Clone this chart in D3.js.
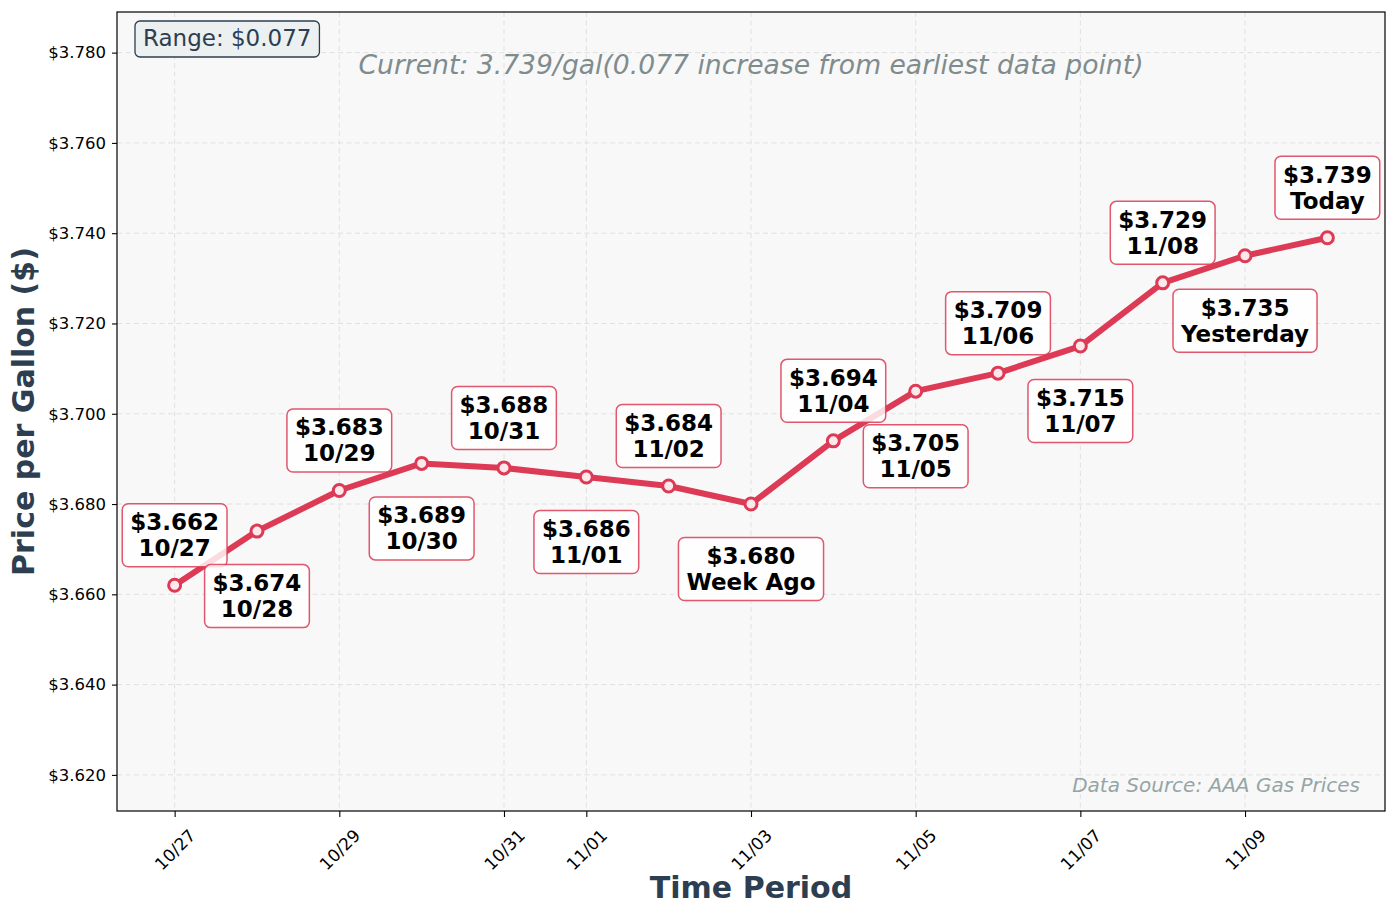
<!DOCTYPE html>
<html>
<head>
<meta charset="utf-8">
<script src="https://cdn.jsdelivr.net/npm/d3@7"></script>
<style>
  html, body { margin: 0; padding: 0; background: #ffffff; }
  svg { display: block; font-family: "DejaVu Sans", sans-serif; }
</style>
</head>
<body>
<svg id="chart" width="1397" height="918"></svg>
<script>
// ---- Data ----
const dateStrings = ["2024-10-27","2024-10-28","2024-10-29","2024-10-30","2024-10-31","2024-11-01","2024-11-02","2024-11-03","2024-11-04","2024-11-05","2024-11-06","2024-11-07","2024-11-08","2024-11-09","2024-11-10"];
const prices = [3.662, 3.674, 3.683, 3.689, 3.688, 3.686, 3.684, 3.680, 3.694, 3.705, 3.709, 3.715, 3.729, 3.735, 3.739];
const pointLabels = ["10/27","10/28","10/29","10/30","10/31","11/01","11/02","Week Ago","11/04","11/05","11/06","11/07","11/08","Yesterday","Today"];
const xTickDates = ["2024-10-27","2024-10-29","2024-10-31","2024-11-01","2024-11-03","2024-11-05","2024-11-07","2024-11-09"];
const xTickLabels = ["10/27","10/29","10/31","11/01","11/03","11/05","11/07","11/09"];
const yTickValues = [3.62, 3.64, 3.66, 3.68, 3.70, 3.72, 3.74, 3.76, 3.78];
const rangeText = "Range: $0.077";
const currentText = "Current: 3.739/gal(0.077 increase from earliest data point)";
const sourceText = "Data Source: AAA Gas Prices";

// ---- Layout ----
const W = 1397, H = 918;
const plot = { left: 117, right: 1385, top: 12, bottom: 811 };
const lineColor = "#dc3a55";

const parse = d3.timeParse("%Y-%m-%d");
const dates = dateStrings.map(parse);
const data = dates.map((d, i) => ({ date: d, price: prices[i], label: pointLabels[i], i }));

const span = dates[dates.length - 1] - dates[0];
const xScale = d3.scaleTime()
  .domain([new Date(+dates[0] - span * 0.05), new Date(+dates[dates.length - 1] + span * 0.05)])
  .range([plot.left, plot.right]);
const yMin = d3.min(prices) - 0.05, yMax = d3.max(prices) + 0.05;
const yScale = d3.scaleLinear().domain([yMin, yMax]).range([plot.bottom, plot.top]);

const svg = d3.select("#chart");
svg.append("rect").attr("width", W).attr("height", H).attr("fill", "#ffffff");

// plot background
svg.append("rect")
  .attr("x", plot.left).attr("y", plot.top)
  .attr("width", plot.right - plot.left).attr("height", plot.bottom - plot.top)
  .attr("fill", "#f8f8f8");

// grid
const grid = svg.append("g");
xTickDates.map(parse).forEach(d => {
  grid.append("line")
    .attr("x1", xScale(d)).attr("x2", xScale(d))
    .attr("y1", plot.top).attr("y2", plot.bottom)
    .attr("stroke", "#dcdcdc").attr("stroke-width", 1).attr("stroke-dasharray", "5,3.5").attr("opacity", 0.8);
});
yTickValues.forEach(v => {
  grid.append("line")
    .attr("x1", plot.left).attr("x2", plot.right)
    .attr("y1", yScale(v)).attr("y2", yScale(v))
    .attr("stroke", "#dcdcdc").attr("stroke-width", 1).attr("stroke-dasharray", "5,3.5").attr("opacity", 0.8);
});

// axes
const yAxis = d3.axisLeft(yScale).tickValues(yTickValues)
  .tickFormat(d => "$" + d3.format(".3f")(d)).tickSize(5).tickPadding(6);
const gy = svg.append("g").attr("transform", `translate(${plot.left},0)`).call(yAxis);
gy.select(".domain").remove();
gy.selectAll("text").attr("font-size", 16.5).attr("font-family", "DejaVu Sans").attr("fill", "#000");
gy.selectAll("line").attr("stroke", "#000").attr("stroke-width", 1.1);

const xTickParsed = xTickDates.map(parse);
const xAxis = d3.axisBottom(xScale).tickValues(xTickParsed)
  .tickFormat((d, i) => xTickLabels[i]).tickSize(6).tickPadding(0);
const gx = svg.append("g").attr("transform", `translate(0,${plot.bottom})`).call(xAxis);
gx.select(".domain").remove();
gx.selectAll("line").attr("stroke", "#000").attr("stroke-width", 1.1);
gx.selectAll("text")
  .attr("font-size", 17).attr("font-family", "DejaVu Sans").attr("fill", "#000")
  .attr("text-anchor", "middle").attr("dy", null).attr("y", null)
  .attr("dominant-baseline", "central")
  .each(function () {
    const L = this.getComputedTextLength();
    const cy = 17 + (L + 12) * 0.3536;
    d3.select(this).attr("transform", `translate(0,${cy}) rotate(-45)`);
  });

// frame
svg.append("rect")
  .attr("x", plot.left).attr("y", plot.top)
  .attr("width", plot.right - plot.left).attr("height", plot.bottom - plot.top)
  .attr("fill", "none").attr("stroke", "#000").attr("stroke-width", 1.2);

// line
const line = d3.line().x(d => xScale(d.date)).y(d => yScale(d.price));
svg.append("path").datum(data)
  .attr("d", line).attr("fill", "none")
  .attr("stroke", lineColor).attr("stroke-width", 6)
  .attr("stroke-linejoin", "round").attr("stroke-linecap", "round");

// markers
svg.append("g").selectAll("circle").data(data).join("circle")
  .attr("cx", d => xScale(d.date)).attr("cy", d => yScale(d.price))
  .attr("r", 6)
  .attr("fill", "#fde8ec").attr("stroke", lineColor).attr("stroke-width", 3);

// point annotations
const ann = svg.append("g");
data.forEach(d => {
  const x = xScale(d.date);
  const cy = yScale(d.price) + (d.i % 2 === 0 ? -50 : 65);
  const g = ann.append("g");
  const box = g.append("rect");
  const t1 = g.append("text").attr("x", x).attr("y", cy - 13)
    .attr("text-anchor", "middle").attr("dominant-baseline", "central")
    .attr("font-size", 23).attr("font-weight", "bold").attr("fill", "#000")
    .text("$" + d3.format(".3f")(d.price));
  const t2 = g.append("text").attr("x", x).attr("y", cy + 13)
    .attr("text-anchor", "middle").attr("dominant-baseline", "central")
    .attr("font-size", 23).attr("font-weight", "bold").attr("fill", "#000")
    .text(d.label);
  const w = Math.max(t1.node().getComputedTextLength(), t2.node().getComputedTextLength()) + 16;
  const h = 63;
  box.attr("x", x - w / 2).attr("y", cy - h / 2).attr("width", w).attr("height", h)
    .attr("rx", 6).attr("ry", 6)
    .attr("fill", "#ffffff").attr("fill-opacity", 0.82)
    .attr("stroke", lineColor).attr("stroke-opacity", 0.85).attr("stroke-width", 1.5);
});

// range box
const rg = svg.append("g");
const rt = rg.append("text").attr("x", 143).attr("y", 46)
  .attr("font-size", 23).attr("fill", "#2c3e50").text(rangeText);
const rw = rt.node().getComputedTextLength();
rg.insert("rect", "text")
  .attr("x", 135).attr("y", 21).attr("width", rw + 16).attr("height", 36)
  .attr("rx", 5).attr("ry", 5)
  .attr("fill", "#ecf0f1").attr("stroke", "#2c3e50").attr("stroke-width", 1.3);

// current text
svg.append("text")
  .attr("x", (plot.left + plot.right) / 2).attr("y", 74)
  .attr("text-anchor", "middle").attr("font-size", 26.6).attr("font-style", "italic")
  .attr("fill", "#7f8c8d").text(currentText);

// data source
svg.append("text")
  .attr("x", 1360).attr("y", 792)
  .attr("text-anchor", "end").attr("font-size", 20).attr("font-style", "italic")
  .attr("fill", "#95a5a6").text(sourceText);

// axis titles
svg.append("text")
  .attr("x", (plot.left + plot.right) / 2).attr("y", 898)
  .attr("text-anchor", "middle").attr("font-size", 30).attr("font-weight", "bold")
  .attr("fill", "#2c3e50").text("Time Period");
svg.append("text")
  .attr("transform", `translate(34,${(plot.top + plot.bottom) / 2}) rotate(-90)`)
  .attr("text-anchor", "middle").attr("font-size", 30).attr("font-weight", "bold")
  .attr("fill", "#2c3e50").text("Price per Gallon ($)");
</script>
</body>
</html>
